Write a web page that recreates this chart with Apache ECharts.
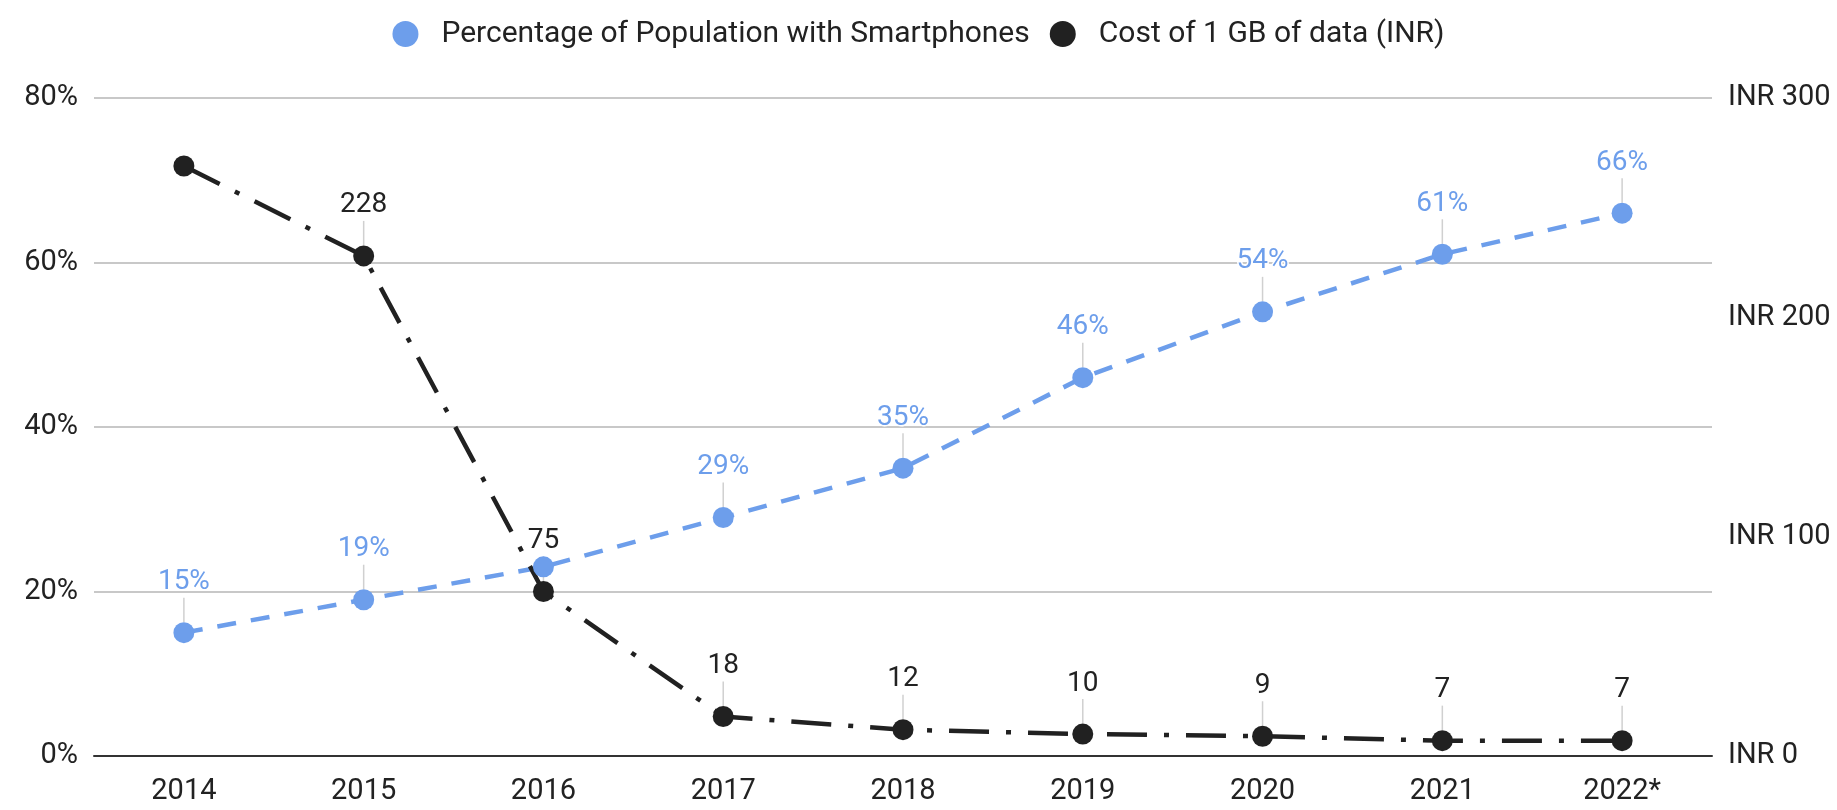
<!DOCTYPE html>
<html><head><meta charset="utf-8">
<script src="https://cdn.jsdelivr.net/npm/echarts@6/dist/echarts.min.js"></script>
<style>html,body{margin:0;padding:0;background:#fff}#c{width:1837px;height:810px}</style>
</head><body><div id="c"></div>
<script>
const years = ['2014','2015','2016','2017','2018','2019','2020','2021','2022*'];
const smartphonePct = [15,19,23,29,35,46,54,61,66];
const dataCost = [269,228,75,18,12,10,9,7,7];
const hiddenPctLabels = ['2016'];
const hiddenCostLabels = ['2014'];
const pctTicks = {min:0, max:80, interval:20};
const inrTicks = {min:0, max:300, interval:100};

const BLUE = '#6d9eeb', BLACK = '#212121';
const font = 'Roboto';

function items(vals, hidden){
  return vals.map((v,i)=> hidden.includes(years[i]) ? {value:v, label:{show:false}, labelLine:{show:false}} : v);
}

const chart = echarts.init(document.getElementById('c'));
chart.setOption({
  animation:false,
  textStyle:{fontFamily:font},
  legend:{
    top:14, left:'center', itemGap:20, itemWidth:26, itemHeight:26,
    icon:'circle',
    textStyle:{fontFamily:font, fontSize:30, color:'#222', padding:[0,0,0,18]},
    data:['Percentage of Population with Smartphones','Cost of 1 GB of data (INR)']
  },
  grid:{left:94, right:125, top:98, bottom:54, containLabel:false},
  xAxis:{
    type:'category', data:years, boundaryGap:true,
    axisLine:{show:true, lineStyle:{color:'#333', width:2}},
    axisTick:{show:false},
    axisLabel:{fontFamily:font, fontSize:29, color:'#222', margin:21}
  },
  yAxis:[{
    type:'value', min:pctTicks.min, max:pctTicks.max, interval:pctTicks.interval,
    axisLabel:{formatter:'{value}%', fontFamily:font, fontSize:29, color:'#222', margin:16},
    axisLine:{show:false}, axisTick:{show:false},
    splitLine:{lineStyle:{color:'#c8c8c8', width:2}}
  },{
    type:'value', position:'right', min:inrTicks.min, max:inrTicks.max, interval:inrTicks.interval,
    axisLabel:{formatter:'INR {value}', fontFamily:font, fontSize:29, color:'#222', margin:16},
    axisLine:{show:false}, axisTick:{show:false}, splitLine:{show:false}
  }],
  series:[{
    name:'Percentage of Population with Smartphones',
    type:'line', yAxisIndex:0, data:items(smartphonePct, hiddenPctLabels),
    symbol:'circle', symbolSize:21,
    itemStyle:{color:BLUE},
    lineStyle:{color:BLUE, width:4.5, type:[19,15]},
    label:{show:true, position:'top', distance:5, formatter:'{c}%', fontFamily:font, fontSize:28,
      color:BLUE, textBorderColor:'#fff', textBorderWidth:3},
    labelLayout:{dy:-21},
    labelLine:{show:true, lineStyle:{color:'#d0d0d0', width:1.5}}
  },{
    name:'Cost of 1 GB of data (INR)',
    type:'line', yAxisIndex:1, data:items(dataCost, hiddenCostLabels),
    symbol:'circle', symbolSize:21,
    itemStyle:{color:BLACK},
    lineStyle:{color:BLACK, width:4.5, type:[40,17,5,17]},
    label:{show:true, position:'top', distance:5, formatter:'{c}', fontFamily:font, fontSize:28,
      color:'#222', textBorderColor:'#fff', textBorderWidth:3},
    labelLayout:{dy:-21},
    labelLine:{show:true, lineStyle:{color:'#d0d0d0', width:1.5}}
  }]
});
</script></body></html>
